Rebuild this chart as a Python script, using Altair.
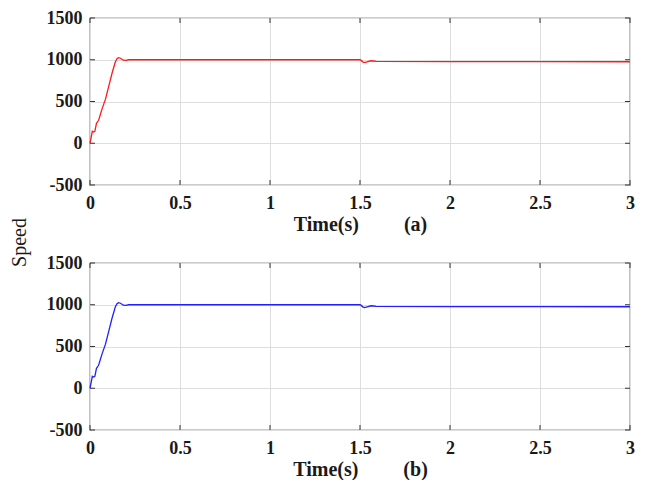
import altair as alt
import pandas as pd

# time (s) and speed readings for panel (a) and (b)
time_a = [0, 0.013, 0.02, 0.027, 0.036, 0.045, 0.05, 0.067, 0.086, 0.104, 0.122, 0.14, 0.149,
          0.158, 0.17, 0.185, 0.2, 0.215, 0.5, 1.0, 1.5, 1.505, 1.515, 1.525, 1.54, 1.561,
          1.575, 1.59, 2.0, 2.5, 3.0]
speed_a = [0, 143, 135, 143, 239, 266, 290, 412, 528, 681, 835, 970, 1010,
           1025, 1018, 995, 992, 1000, 1000, 1000, 1000, 995, 975, 965, 975, 988,
           985, 980, 978, 978, 976]
time_b = list(time_a)
speed_b = list(speed_a)

x_ticks = [0, 0.5, 1, 1.5, 2, 2.5, 3]
y_ticks = [-500, 0, 500, 1000, 1500]

W, H = 540, 167
FONT = "Liberation Serif"
NB = "\u00a0"
TXT = "#1a1a1a"

common = dict(labelFont=FONT, labelFontWeight="bold", labelFontSize=18, labelColor=TXT,
              labelExpr="toString(datum.value)", ticks=False, domain=False,
              labelFlush=False, gridColor="#dedede", gridWidth=1)


def panel(t, v, color, tag, show_speed):
    df = pd.DataFrame({"t": t, "v": v})
    xs = alt.Scale(domain=[0, 3], nice=False)
    ys = alt.Scale(domain=[-500, 1500], nice=False)
    x_axis = alt.Axis(values=x_ticks, labelPadding=9, titlePadding=2,
                      title="Time(s)" + NB * 9 + tag, titleFont=FONT,
                      titleFontWeight="bold", titleFontSize=20, titleColor=TXT, **common)
    if show_speed:
        y_axis = alt.Axis(values=y_ticks, labelPadding=8, title="Speed",
                          titleX=-71, titleY=224, titleAlign="center",
                          titleBaseline="middle", titleFont=FONT, titleFontWeight="normal",
                          titleFontSize=20, titleColor=TXT, **common)

        def Y(f):
            return alt.Y(f, scale=ys, axis=y_axis)
    else:
        y_axis = alt.Axis(values=y_ticks, labelPadding=8, **common)

        def Y(f):
            return alt.Y(f, scale=ys, axis=y_axis, title=None)

    def X(f):
        return alt.X(f, scale=xs, axis=x_axis)

    line = alt.Chart(df).mark_line(color=color, strokeWidth=1.3).encode(
        x=X("t:Q"), y=Y("v:Q"))

    xt = pd.DataFrame({"t": x_ticks})
    yt = pd.DataFrame({"v": y_ticks})
    tick_style = dict(color="#333333", strokeWidth=1)
    top_t = alt.Chart(xt).mark_rule(**tick_style).encode(
        x=X("t:Q"), y=alt.value(0), y2=alt.value(5))
    bot_t = alt.Chart(xt).mark_rule(**tick_style).encode(
        x=X("t:Q"), y=alt.value(H), y2=alt.value(H - 5))
    left_t = alt.Chart(yt).mark_rule(**tick_style).encode(
        y=Y("v:Q"), x=alt.value(0), x2=alt.value(5))
    right_t = alt.Chart(yt).mark_rule(**tick_style).encode(
        y=Y("v:Q"), x=alt.value(W), x2=alt.value(W - 5))
    return alt.layer(line, top_t, bot_t, left_t, right_t).properties(width=W, height=H)


chart = alt.vconcat(
    panel(time_a, speed_a, "#ff1a1a", "(a)", True),
    panel(time_b, speed_b, "#2020ff", "(b)", False),
    spacing=78, bounds="flush",
).properties(padding=0).configure_view(
    stroke="#333333", strokeWidth=1.2
).configure_axis(
    labelFont=FONT, labelFontWeight="bold", labelFontSize=18, labelColor=TXT,
    titleFont=FONT,
)

chart.save("out.html", embed_options={"renderer": "svg", "actions": False})
